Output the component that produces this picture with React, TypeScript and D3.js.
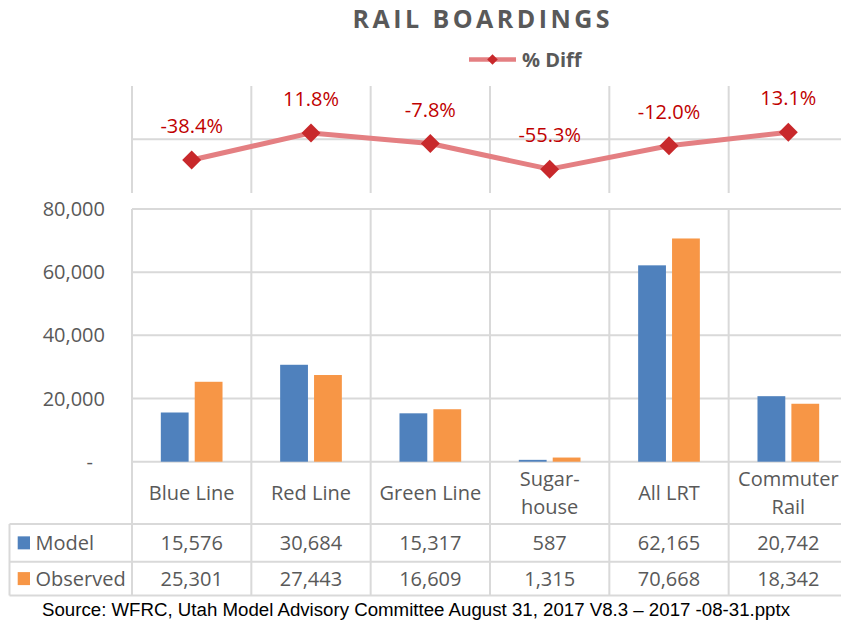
import { useEffect, useRef } from "react";
import * as d3 from "d3";

// chart values
const categories = ["Blue Line", "Red Line", "Green Line", "Sugar-\nhouse", "All LRT", "Commuter\nRail"];
const seriesNames = ["Model", "Observed"];
const modelValues = [15576, 30684, 15317, 587, 62165, 20742];
const observedValues = [25301, 27443, 16609, 1315, 70668, 18342];
const pctDiff = [-38.4, 11.8, -7.8, -55.3, -12.0, 13.1];
const pctLabels = ["-38.4%", "11.8%", "-7.8%", "-55.3%", "-12.0%", "13.1%"];
const yTicks = [0, 20000, 40000, 60000, 80000];

const width = 841;
const height = 621;

const textColor = "#595959";
const gridColor = "#D9D9D9";
const seriesColors = ["#4F81BD", "#F79646"];
const lineColor = "#E47F82";
const markerColor = "#C8282B";
const labelColor = "#C00000";
const font = "'Open Sans', sans-serif";

// plot frame
const left = 132;
const right = 848;
const tableLeft = 9.5;
const pctTop = 86;
const pctBottom = 193;
const barTop = 209;
const barBottom = 461.7;
const headerBottom = 524;
const row1Bottom = 561.7;
const row2Bottom = 595.5;

const drawChart = (node: SVGSVGElement) => {
    const svg = d3.select(node);
    svg.selectAll("*").remove();

    const x0 = d3.scaleBand<string>().domain(categories).range([left, right]);
    const x1 = d3.scaleBand<string>()
        .domain(seriesNames)
        .range([0, x0.bandwidth()])
        .paddingInner(0.18)
        .paddingOuter(0.85);
    const y = d3.scaleLinear().domain([0, 80000]).range([barBottom, barTop]);
    const yPct = d3.scaleLinear().domain([-100, 100]).range([193.3, 85.3]);

    const cx = (c: string) => (x0(c) as number) + x0.bandwidth() / 2;
    const bounds = categories.map(c => x0(c) as number).concat([right]);

    // title
    svg.append("text")
        .attr("x", 481)
        .attr("y", 28)
        .attr("text-anchor", "middle")
        .attr("font-family", font)
        .attr("font-weight", "bold")
        .attr("font-size", 25)
        .attr("fill", textColor)
        .attr("textLength", 257)
        .attr("lengthAdjust", "spacing")
        .text("RAIL BOARDINGS");

    // legend for the % diff line
    svg.append("line")
        .attr("x1", 469).attr("x2", 516)
        .attr("y1", 59.5).attr("y2", 59.5)
        .attr("stroke", lineColor)
        .attr("stroke-width", 4.5);
    svg.append("path")
        .attr("d", d3.symbol(d3.symbolSquare, 56)())
        .attr("transform", "translate(492.5,59.5) rotate(45)")
        .attr("fill", markerColor);
    svg.append("text")
        .attr("x", 522)
        .attr("y", 66.5)
        .attr("font-family", font)
        .attr("font-weight", "bold")
        .attr("font-size", 20)
        .attr("fill", textColor)
        .text("% Diff");

    const grid = svg.append("g")
        .attr("stroke", gridColor)
        .attr("stroke-width", 2)
        .attr("fill", "none");

    // top panel grid
    bounds.forEach(bx => {
        grid.append("line").attr("x1", bx).attr("x2", bx).attr("y1", pctTop).attr("y2", pctBottom);
    });
    grid.append("line").attr("x1", left).attr("x2", right).attr("y1", yPct(0)).attr("y2", yPct(0));

    // bar panel grid + table lines
    yTicks.forEach(t => {
        grid.append("line").attr("x1", left).attr("x2", right).attr("y1", y(t)).attr("y2", y(t));
    });
    bounds.forEach(bx => {
        grid.append("line").attr("x1", bx).attr("x2", bx).attr("y1", barTop).attr("y2", row2Bottom);
    });
    [headerBottom, row1Bottom, row2Bottom].forEach(ry => {
        grid.append("line").attr("x1", tableLeft).attr("x2", right).attr("y1", ry).attr("y2", ry);
    });
    grid.append("line").attr("x1", tableLeft).attr("x2", tableLeft).attr("y1", headerBottom).attr("y2", row2Bottom);

    // y axis labels
    svg.append("g")
        .attr("font-family", font)
        .attr("font-size", 20)
        .attr("fill", textColor)
        .attr("text-anchor", "end")
        .selectAll("text")
        .data(yTicks)
        .join("text")
        .attr("x", d => (d === 0 ? 93 : 105))
        .attr("y", d => y(d) + 7)
        .text(d => (d === 0 ? "-" : d3.format(",")(d)));

    // bars
    const seriesValues = [modelValues, observedValues];
    seriesNames.forEach((s, si) => {
        svg.append("g")
            .selectAll("rect")
            .data(categories)
            .join("rect")
            .attr("x", c => (x0(c) as number) + (x1(s) as number))
            .attr("width", x1.bandwidth())
            .attr("y", (c, i) => y(seriesValues[si][i]))
            .attr("height", (c, i) => y(0) - y(seriesValues[si][i]))
            .attr("fill", seriesColors[si]);
    });

    // % diff line and markers
    const line = d3.line<number>()
        .x((d, i) => cx(categories[i]))
        .y(d => yPct(d));
    svg.append("path")
        .attr("d", line(pctDiff))
        .attr("fill", "none")
        .attr("stroke", lineColor)
        .attr("stroke-width", 5)
        .attr("stroke-linejoin", "round");
    svg.append("g")
        .selectAll("path")
        .data(pctDiff)
        .join("path")
        .attr("d", d3.symbol(d3.symbolSquare, 180)())
        .attr("transform", (d, i) => `translate(${cx(categories[i])},${yPct(d)}) rotate(45)`)
        .attr("fill", markerColor);
    svg.append("g")
        .attr("font-family", font)
        .attr("font-size", 20)
        .attr("fill", labelColor)
        .attr("text-anchor", "middle")
        .selectAll("text")
        .data(pctDiff)
        .join("text")
        .attr("x", (d, i) => cx(categories[i]))
        .attr("y", d => yPct(d) - 27)
        .text((d, i) => pctLabels[i]);

    // table header (category names)
    const header = svg.append("g")
        .attr("font-family", font)
        .attr("font-size", 20)
        .attr("fill", textColor)
        .attr("text-anchor", "middle");
    categories.forEach(c => {
        const parts = c.split("\n");
        parts.forEach((p, i) => {
            header.append("text")
                .attr("x", cx(c))
                .attr("y", 500 + (i - (parts.length - 1) / 2) * 28)
                .text(p);
        });
    });

    // table rows
    const rowCenters = [(headerBottom + row1Bottom) / 2, (row1Bottom + row2Bottom) / 2];
    seriesNames.forEach((s, si) => {
        const ry = rowCenters[si];
        svg.append("rect")
            .attr("x", 17.7).attr("y", ry - 6.5)
            .attr("width", 12.3).attr("height", 13)
            .attr("fill", seriesColors[si]);
        svg.append("text")
            .attr("x", 35.5)
            .attr("y", ry + 7)
            .attr("font-family", font)
            .attr("font-size", 20)
            .attr("fill", textColor)
            .text(s);
        svg.append("g")
            .attr("font-family", font)
            .attr("font-size", 20)
            .attr("fill", textColor)
            .attr("text-anchor", "middle")
            .selectAll("text")
            .data(seriesValues[si])
            .join("text")
            .attr("x", (d, i) => cx(categories[i]))
            .attr("y", ry + 7)
            .text(d => d3.format(",")(d));
    });

    // source note
    svg.append("text")
        .attr("x", 416)
        .attr("y", 615.7)
        .attr("text-anchor", "middle")
        .attr("font-family", "'Liberation Sans', Arial, sans-serif")
        .attr("font-size", 18)
        .attr("fill", "#000")
        .attr("textLength", 748)
        .attr("lengthAdjust", "spacingAndGlyphs")
        .text("Source: WFRC, Utah Model Advisory Committee August 31, 2017 V8.3 – 2017 -08-31.pptx");
};

export default function App() {
    const ref = useRef<SVGSVGElement>(null);

    useEffect(() => {
        if (ref.current) drawChart(ref.current);
    }, []);

    return (
        <svg
            ref={ref}
            width={width}
            height={height}
            style={{ position: "absolute", left: 0, top: 0, background: "#fff" }}
        />
    );
}
